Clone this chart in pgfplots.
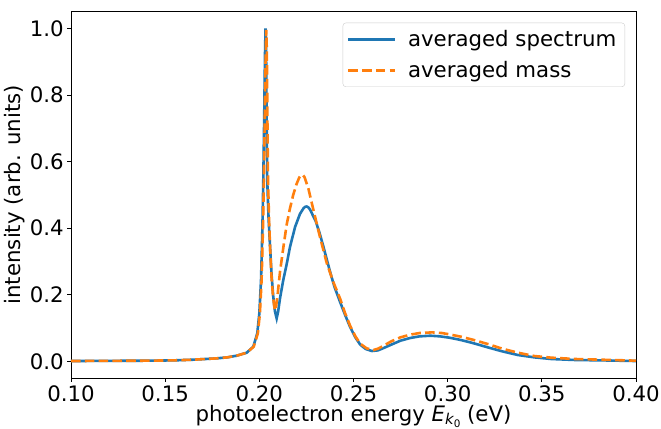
\documentclass[border=0pt]{standalone}
\usepackage{fontspec}
\setmainfont{DejaVu Sans}
\usepackage{pgfplots}
\pgfplotsset{compat=1.18}
\definecolor{mplblue}{RGB}{31,119,180}
\definecolor{mplorange}{RGB}{255,127,14}
\newcommand{\bigfont}{\fontsize{21.3bp}{25bp}\selectfont}
\begin{document}
\begin{tikzpicture}
\begin{axis}[
  name=ax,
  width=565bp, height=366.3bp, scale only axis,
  xmin=0.1, xmax=0.4, ymin=-0.05, ymax=1.05,
  xtick={0.10,0.15,0.20,0.25,0.30,0.35,0.40},
  ytick={0,0.2,0.4,0.6,0.8,1.0},
  scaled ticks=false,
  tick align=outside, tick pos=left,
  major tick length=3.6bp,
  tick style={black, line width=0.8bp},
  axis line style={line width=0.8bp},
  /pgf/number format/assume math mode=true,
  xticklabel style={font=\bigfont, inner sep=0pt, anchor=north, yshift=-3.8bp, /pgf/number format/fixed, /pgf/number format/fixed zerofill, /pgf/number format/precision=2},
  yticklabel style={font=\bigfont, inner sep=0pt, anchor=east, xshift=-3.4bp, /pgf/number format/fixed, /pgf/number format/fixed zerofill, /pgf/number format/precision=1},
  xlabel={photoelectron energy {\itshape E}\raisebox{-3bp}{\fontsize{14.9bp}{16bp}\selectfont\itshape k\raisebox{-2.5bp}{\upshape\fontsize{10.4bp}{12bp}\selectfont 0}} (eV)},
  ylabel={intensity (arb. units)},
  xlabel style={font=\bigfont, at={(axis description cs:0.5,-0.1188)}, anchor=base, inner sep=0pt},
  ylabel style={font=\bigfont, at={(axis description cs:-0.0995,0.5)}, anchor=center, rotate=0},
  legend image code/.code={\draw[#1] (0bp,0bp) -- (47bp,0bp);},
  legend cell align=left,
  legend style={font=\bigfont, at={(1,1)}, xshift=-11bp, yshift=-11bp, anchor=north east,
    draw=black!20, rounded corners=3bp, fill=white, fill opacity=0.8, text opacity=1,
    inner xsep=4bp, inner ysep=3bp, row sep=4.5bp,
    nodes={inner sep=4.5bp},
    /tikz/every odd column/.append style={column sep=7bp}},
]
\addplot[mplblue, line width=2.6bp] coordinates {
(0.100,0.001) (0.120,0.0015) (0.140,0.002) (0.155,0.003) (0.165,0.005)
(0.1774,0.009) (0.183,0.012) (0.188,0.017) (0.1933,0.026) (0.1968,0.044)
(0.1989,0.084) (0.2000,0.144) (0.2009,0.244) (0.2016,0.394) (0.2021,0.544)
(0.2026,0.74) (0.2030,0.92) (0.2033,1.000) (0.2036,0.93) (0.2039,0.72)
(0.2042,0.544) (0.2049,0.43) (0.2057,0.344) (0.2065,0.26) (0.2074,0.194)
(0.2083,0.150) (0.2092,0.129) (0.2100,0.150) (0.2110,0.19) (0.2127,0.244)
(0.2146,0.294) (0.2163,0.344) (0.2190,0.404) (0.2216,0.443) (0.2235,0.460)
(0.2243,0.464) (0.2252,0.465) (0.2261,0.462) (0.2270,0.455) (0.2300,0.420)
(0.2320,0.385) (0.2340,0.345) (0.2360,0.302) (0.2380,0.260) (0.2400,0.222)
(0.2429,0.178) (0.2455,0.140) (0.2482,0.103) (0.2510,0.072)
(0.2536,0.050) (0.2565,0.037) (0.2598,0.031) (0.2630,0.033) (0.2660,0.040)
(0.2700,0.050) (0.2749,0.062) (0.2800,0.070) (0.2850,0.075) (0.2908,0.077)
(0.2960,0.075) (0.3010,0.071) (0.3071,0.064) (0.3140,0.054) (0.3213,0.042)
(0.3290,0.030) (0.3373,0.019) (0.3460,0.012) (0.3551,0.007) (0.3680,0.004)
(0.3814,0.003) (0.4000,0.001)
};
\addlegendentry{averaged spectrum}
\addplot[mplorange, line width=2.6bp, dash pattern=on 9.6bp off 4.2bp] coordinates {
(0.100,0.001) (0.120,0.0015) (0.140,0.002) (0.155,0.003) (0.165,0.005)
(0.1774,0.009) (0.183,0.012) (0.188,0.017) (0.1933,0.026) (0.1970,0.044)
(0.1992,0.084) (0.2003,0.144) (0.2012,0.244) (0.2019,0.394) (0.2024,0.544)
(0.2029,0.74) (0.2033,0.90) (0.2037,0.995) (0.2040,0.93) (0.2043,0.72)
(0.2046,0.544) (0.2052,0.42) (0.2058,0.33) (0.2065,0.25) (0.2072,0.20)
(0.2078,0.170) (0.2083,0.153) (0.2089,0.165) (0.2097,0.20) (0.2110,0.27)
(0.2127,0.34) (0.2145,0.41) (0.2163,0.46) (0.2180,0.50) (0.2198,0.533)
(0.2212,0.552) (0.2218,0.557) (0.2225,0.560) (0.2232,0.559) (0.2240,0.553)
(0.2260,0.520) (0.2287,0.455)
(0.2320,0.378) (0.2358,0.295) (0.2393,0.238) (0.2429,0.188) (0.2455,0.145)
(0.2482,0.107) (0.2510,0.075) (0.2536,0.053) (0.2570,0.039) (0.2606,0.034)
(0.2630,0.038) (0.2660,0.047) (0.2700,0.060) (0.2749,0.072) (0.2800,0.080)
(0.2850,0.085) (0.2917,0.087) (0.2970,0.085) (0.3010,0.081) (0.3071,0.074)
(0.3140,0.064) (0.3213,0.052) (0.3290,0.038) (0.3373,0.026) (0.3460,0.016)
(0.3551,0.011) (0.3680,0.007) (0.3814,0.005) (0.4000,0.002)
};
\addlegendentry{averaged mass}
\end{axis}
\pgfresetboundingbox
\path[use as bounding box] (ax.south west) ++(-71bp,-51bp) rectangle ++(661bp,429bp);
\end{tikzpicture}
\end{document}
